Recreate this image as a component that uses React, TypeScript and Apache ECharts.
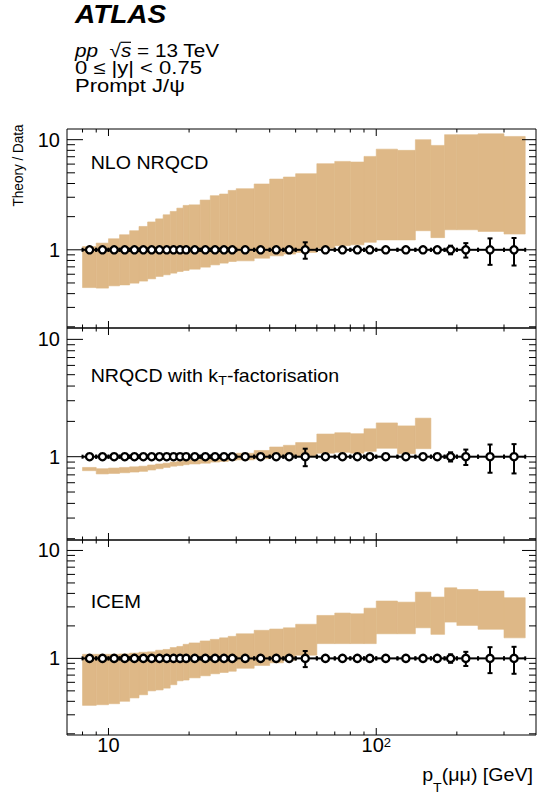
import React, { useEffect, useRef } from 'react';
import * as echarts from 'echarts';

const FONT = '"Liberation Sans", Arial, Helvetica, sans-serif';
const BAND = '#DEB887';

// pT bin edges [GeV]
const binEdges = [8, 9, 10, 11, 12, 13, 14, 15, 16, 17, 18, 19, 20, 22, 24, 26, 28, 30, 35, 40, 45, 50, 60, 70, 80, 90, 100, 120, 140, 160, 180, 200, 240, 300, 360];
// data points (mean pT in bin), ratio and relative uncertainty
const ptMean = [8.5, 9.5, 10.5, 11.5, 12.5, 13.5, 14.5, 15.5, 16.5, 17.5, 18.5, 19.5, 21, 23, 25, 27, 29, 32.4, 37, 42.3, 47.3, 54.3, 64.6, 74.8, 85, 94.6, 108.5, 129, 149.5, 169, 189.5, 216, 266, 327];
const ratio = [1, 1, 1, 1, 1, 1, 1, 1, 1, 1, 1, 1, 1, 1, 1, 1, 1, 1, 1, 1, 1, 1, 1, 1, 1, 1, 1, 1, 1, 1, 1, 1, 1, 1];
const ratioErr = [0.02, 0.02, 0.02, 0.02, 0.02, 0.02, 0.02, 0.02, 0.02, 0.02, 0.02, 0.02, 0.02, 0.02, 0.02, 0.02, 0.02, 0.02, 0.02, 0.02, 0.03, 0.17, 0.03, 0.03, 0.03, 0.03, 0.03, 0.03, 0.04, 0.05, 0.09, 0.15, 0.27, 0.28];

// NLO NRQCD band
const nloLow = [0.454, 0.449, 0.471, 0.48, 0.498, 0.52, 0.545, 0.573, 0.593, 0.614, 0.635, 0.649, 0.667, 0.696, 0.73, 0.757, 0.783, 0.794, 0.84, 0.882, 0.914, 0.946, 1.035, 1.09, 1.11, 1.17, 1.23, 1.23, 1.49, 1.29, 1.52, 1.52, 1.47, 1.39];
const nloHigh = [1.07, 1.15, 1.26, 1.37, 1.49, 1.63, 1.79, 1.91, 2.08, 2.23, 2.39, 2.53, 2.56, 2.83, 3.1, 3.21, 3.46, 3.59, 3.96, 4.39, 4.58, 4.91, 6.05, 6.35, 6.27, 7.05, 8.2, 8.0, 10.0, 8.87, 11.1, 11.1, 11.3, 10.7];
// NRQCD with kT-factorisation band (up to 160 GeV)
const ktLow = [0.76, 0.713, 0.72, 0.73, 0.74, 0.75, 0.77, 0.79, 0.81, 0.83, 0.84, 0.855, 0.867, 0.88, 0.9, 0.91, 0.93, 0.94, 0.96, 0.99, 1.0, 1.01, 1.07, 1.09, 1.07, 1.11, 1.18, 1.06, 1.17];
const ktHigh = [0.81, 0.79, 0.8, 0.81, 0.82, 0.83, 0.85, 0.867, 0.88, 0.9, 0.91, 0.93, 0.94, 0.96, 0.99, 1.01, 1.03, 1.07, 1.13, 1.21, 1.25, 1.32, 1.56, 1.6, 1.57, 1.73, 1.94, 1.83, 2.13];
// ICEM band
const icemLow = [0.367, 0.372, 0.38, 0.4, 0.43, 0.46, 0.5, 0.51, 0.53, 0.57, 0.62, 0.63, 0.66, 0.69, 0.72, 0.74, 0.76, 0.81, 0.86, 0.91, 0.96, 1.07, 1.37, 1.37, 1.37, 1.37, 1.69, 1.69, 1.92, 1.67, 2.17, 2.02, 1.86, 1.55];
const icemHigh = [1.09, 1.09, 1.09, 1.1, 1.12, 1.14, 1.15, 1.19, 1.21, 1.26, 1.29, 1.35, 1.39, 1.45, 1.5, 1.55, 1.6, 1.69, 1.82, 1.87, 1.92, 2.07, 2.5, 2.63, 2.59, 2.92, 3.4, 3.32, 4.11, 3.7, 4.51, 4.35, 4.2, 3.65];

// axis ticks
const yMajorTicks = [1, 10];
const yMinorTicks = [0.2, 0.3, 0.4, 0.5, 0.6, 0.7, 0.8, 0.9, 2, 3, 4, 5, 6, 7, 8, 9];
const xMajorTicks = [10, 100];
const xMinorTicks = [8, 9, 20, 30, 40, 50, 60, 70, 80, 90, 200, 300];

const X_MIN = 7, X_MAX = 395, Y_MIN = 0.195, Y_MAX = 12.5;
const GRID_LEFT = 67, GRID_WIDTH = 469;
const panelGeom = [
  { top: 129, height: 199 },
  { top: 328, height: 212 },
  { top: 540, height: 195 },
];
const bands = [
  { low: nloLow, high: nloHigh },
  { low: ktLow, high: ktHigh },
  { low: icemLow, high: icemHigh },
];

const Y_MAJ_L = 16, Y_MIN_L = 8, Y_MAJ_R = 14, Y_MIN_R = 7, X_MAJ = 7, X_MIN_LEN = 3.5;

function tickSeries(gi: number) {
  return {
    type: 'custom', xAxisIndex: gi, yAxisIndex: gi, silent: true, clip: false, z: 20,
    data: [[10, 1]],
    renderItem: (_p: any, api: any) => {
      const children: any[] = [];
      const [xl, yb] = api.coord([X_MIN, Y_MIN]);
      const [xr, yt] = api.coord([X_MAX, Y_MAX]);
      const ln = (x1: number, y1: number, x2: number, y2: number) =>
        children.push({ type: 'line', shape: { x1, y1, x2, y2 }, style: { stroke: '#000', lineWidth: 1 } });
      yMajorTicks.forEach((v) => { const y = api.coord([X_MIN, v])[1]; ln(xl, y, xl + Y_MAJ_L, y); ln(xr, y, xr - Y_MAJ_R, y); });
      yMinorTicks.forEach((v) => { const y = api.coord([X_MIN, v])[1]; ln(xl, y, xl + Y_MIN_L, y); ln(xr, y, xr - Y_MIN_R, y); });
      xMajorTicks.forEach((v) => { const x = api.coord([v, Y_MIN])[0]; ln(x, yb, x, yb - X_MAJ); ln(x, yt, x, yt + X_MAJ); });
      xMinorTicks.forEach((v) => { const x = api.coord([v, Y_MIN])[0]; ln(x, yb, x, yb - X_MIN_LEN); ln(x, yt, x, yt + X_MIN_LEN); });
      return { type: 'group', children };
    },
  };
}

function bandSeries(gi: number) {
  const b = bands[gi];
  return {
    type: 'custom', xAxisIndex: gi, yAxisIndex: gi, silent: true, clip: true, z: 2,
    data: b.low.map((l, i) => [binEdges[i], binEdges[i + 1], l, b.high[i]]),
    encode: { x: [0, 1], y: [2, 3] },
    renderItem: (_p: any, api: any) => {
      const p1 = api.coord([api.value(0), api.value(3)]);
      const p2 = api.coord([api.value(1), api.value(2)]);
      return {
        type: 'rect',
        shape: { x: p1[0], y: p1[1], width: p2[0] - p1[0], height: p2[1] - p1[1] },
        style: { fill: BAND, stroke: BAND, lineWidth: 0.6 },
      };
    },
  };
}

function dataSeries(gi: number) {
  return {
    type: 'custom', xAxisIndex: gi, yAxisIndex: gi, silent: true, clip: false, z: 10,
    data: ptMean.map((x, i) => [x, ratio[i], binEdges[i], binEdges[i + 1], ratioErr[i]]),
    encode: { x: [0, 2, 3], y: 1 },
    renderItem: (_p: any, api: any) => {
      const x = api.value(0), y = api.value(1), lo = api.value(2), hi = api.value(3), e = api.value(4);
      const c = api.coord([x, y]);
      const l = api.coord([lo, y]);
      const h = api.coord([hi, y]);
      const t = api.coord([x, y + e]);
      const b = api.coord([x, y - e]);
      const st = { stroke: '#000', lineWidth: 2 };
      return {
        type: 'group',
        children: [
          { type: 'line', shape: { x1: l[0], y1: l[1], x2: h[0], y2: h[1] }, style: st },
          { type: 'line', shape: { x1: l[0], y1: l[1] - 2, x2: l[0], y2: l[1] + 2 }, style: st },
          { type: 'line', shape: { x1: h[0], y1: h[1] - 2, x2: h[0], y2: h[1] + 2 }, style: st },
          { type: 'line', shape: { x1: c[0], y1: t[1], x2: c[0], y2: b[1] }, style: st },
          { type: 'line', shape: { x1: c[0] - 2.5, y1: t[1], x2: c[0] + 2.5, y2: t[1] }, style: st },
          { type: 'line', shape: { x1: c[0] - 2.5, y1: b[1], x2: c[0] + 2.5, y2: b[1] }, style: st },
          { type: 'circle', shape: { cx: c[0], cy: c[1], r: 3.6 }, style: { fill: '#fff', stroke: '#000', lineWidth: 2.3 } },
        ],
      };
    },
  };
}

function txt(text: string, x: number, y: number, size: number, extra: any = {}, styleExtra: any = {}) {
  return {
    type: 'text', x, y, z: 50, ...extra,
    style: { text, fontSize: size, fontFamily: FONT, fill: '#000', align: 'left', verticalAlign: 'middle', ...styleExtra },
  };
}

function buildOption() {
  const grid = panelGeom.map((g) => ({
    left: GRID_LEFT, width: GRID_WIDTH, top: g.top, height: g.height,
    show: true, borderColor: '#000', borderWidth: 1, backgroundColor: 'transparent',
  }));
  const xAxis = panelGeom.map((_g, i) => ({
    type: 'log', logBase: 10, gridIndex: i, min: X_MIN, max: X_MAX,
    axisLine: { show: false }, axisTick: { show: false }, splitLine: { show: false },
    axisLabel: {
      show: i === 2, showMinLabel: false, showMaxLabel: false, margin: -0.5,
      formatter: (v: number) => (v === 10 ? '{b|10}' : v === 100 ? '{b|10}{sup|2}' : ''),
      rich: {
        b: { fontSize: 20, fontFamily: FONT, color: '#000', verticalAlign: 'top', lineHeight: 36 },
        sup: { fontSize: 13, fontFamily: FONT, color: '#000', verticalAlign: 'top', padding: [1.5, 0, 0, 0] },
      },
    },
  }));
  const yAxis = panelGeom.map((_g, i) => ({
    type: 'log', logBase: 10, gridIndex: i, min: Y_MIN, max: Y_MAX,
    axisLine: { show: false }, axisTick: { show: false }, splitLine: { show: false },
    axisLabel: {
      showMinLabel: false, showMaxLabel: false, margin: 7,
      fontSize: 20, fontFamily: FONT, color: '#000',
      formatter: (v: number) => (v === 1 ? '1' : v === 10 ? '10' : ''),
    },
  }));
  const series: any[] = [];
  for (let i = 0; i < 3; i++) {
    series.push(bandSeries(i));
    series.push(dataSeries(i));
    series.push(tickSeries(i));
  }
  const subRich = (mainSize: number, subSize: number, pad: number) => ({
    m: { fontSize: mainSize, fontFamily: FONT, fill: '#000', verticalAlign: 'top', lineHeight: mainSize },
    s: { fontSize: subSize, fontFamily: FONT, fill: '#000', verticalAlign: 'bottom', padding: [pad, 0, 0, 0] },
  });
  const graphic = [
    txt('ATLAS', 75, 14.5, 25, { scaleX: 1.12 }, { fontWeight: 'bold', fontStyle: 'italic' }),
    txt('{i|pp}  √{i|s} = 13 TeV', 75, 50, 18.5, { scaleX: 1.12 }, {
      rich: { i: { fontSize: 18.5, fontFamily: FONT, fontStyle: 'italic', fill: '#000' } },
    }),
    { type: 'line', z: 50, shape: { x1: 120.5, y1: 42.3, x2: 131, y2: 42.3 }, style: { stroke: '#000', lineWidth: 1.2 } },
    txt('0 ≤ |y| < 0.75', 75, 68, 18.5, { scaleX: 1.19 }),
    txt('Prompt J/ψ', 75, 85.5, 18.5, { scaleX: 1.19 }),
    txt('NLO NRQCD', 90.7, 163, 18, { scaleX: 1.09 }),
    txt('{m|NRQCD with k}{s|T}{m|-factorisation}', 90.7, 366.8, 18, { scaleX: 1.09 }, {
      verticalAlign: 'top', rich: subRich(18, 13, 7.5),
    }),
    txt('ICEM', 90.7, 602, 18, { scaleX: 1.12 }),
    txt('Theory / Data', 17.5, 165.5, 13.5, { rotation: Math.PI / 2, scaleY: 1.1 }, { align: 'center' }),
    txt('{m|p}{s|T}{m|(μμ) [GeV]}', 533, 766, 18, { scaleX: 1.09 }, {
      align: 'right', verticalAlign: 'top', rich: subRich(18, 13, 15.5),
    }),
  ];
  return { animation: false, backgroundColor: '#fff', grid, xAxis, yAxis, series, graphic };
}

export default function App() {
  const ref = useRef<HTMLDivElement>(null);
  useEffect(() => {
    const chart = echarts.init(ref.current as HTMLDivElement, null, { renderer: 'svg' });
    chart.setOption(buildOption() as any);
    return () => chart.dispose();
  }, []);
  return <div ref={ref} style={{ position: 'fixed', left: 0, top: 0, width: 542, height: 799, background: '#fff' }} />;
}
